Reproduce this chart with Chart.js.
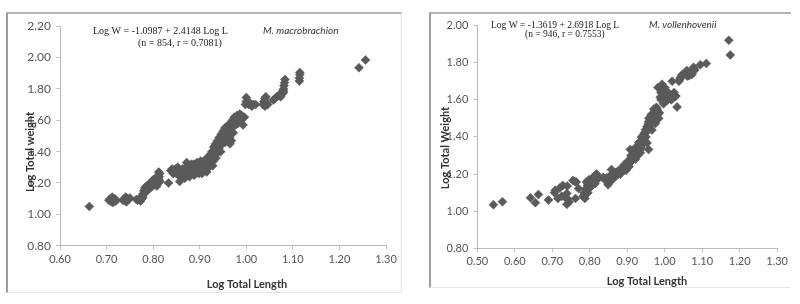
<!DOCTYPE html>
<html>
<head>
<meta charset="utf-8">
<script src="https://cdn.jsdelivr.net/npm/chart.js@4.4.0/dist/chart.umd.min.js"></script>
<style>
  body { margin: 0; background: #fff; width: 800px; height: 304px; position: relative; overflow: hidden; }
  .frame { position: absolute; border-left: 2px solid #9c9c9c; border-top: 2px solid #b4b4b4; border-right: 1px solid #e2e2e2; border-bottom: 1px solid #e6e6e6; }
  .frame canvas { display: block; }
  #f1 { left: 6px; top: 12px; }
  #f2 { left: 429px; top: 12px; border-right: none; }
</style>
</head>
<body>
<div class="frame" id="f1"><canvas id="c1" width="393" height="278"></canvas></div>
<div class="frame" id="f2"><canvas id="c2" width="360" height="273"></canvas></div>
<script>
// M. macrobrachion : log length / log weight
const macroLength = [0.663, 0.705, 0.708, 0.710, 0.712, 0.715, 0.718, 0.714, 0.720,
  0.735, 0.738, 0.740, 0.741, 0.744, 0.747, 0.750, 0.743,
  0.764, 0.767, 0.770, 0.773, 0.776, 0.778,
  0.778, 0.780, 0.782, 0.784, 0.786, 0.788, 0.790, 0.792, 0.794, 0.796, 0.798, 0.800, 0.802, 0.804, 0.806, 0.808, 0.810, 0.812, 0.813, 0.814, 0.812, 0.815,
  0.833,
  0.838, 0.841, 0.844, 0.847, 0.850, 0.852, 0.855, 0.857, 0.860, 0.862, 0.865, 0.867, 0.870, 0.872, 0.874, 0.876, 0.878, 0.880, 0.882, 0.884, 0.886, 0.888, 0.890, 0.892, 0.894, 0.896, 0.898, 0.900, 0.902, 0.904, 0.906, 0.908, 0.910, 0.912, 0.914, 0.916, 0.918, 0.920, 0.922, 0.924, 0.926, 0.928, 0.930, 0.932, 0.934, 0.936, 0.938, 0.940, 0.942, 0.944, 0.946, 0.948, 0.950, 0.952, 0.954, 0.956, 0.958, 0.960, 0.962, 0.964, 0.965, 0.966, 0.968, 0.970, 0.972, 0.974, 0.976, 0.978, 0.980, 0.982, 0.984, 0.986, 0.988, 0.990, 0.993, 0.996,
  0.928, 0.935, 0.945, 0.955, 0.962, 0.972, 0.968, 0.915, 0.905, 0.895,
  0.843, 0.848, 0.853, 0.858, 0.863, 0.868, 0.873, 0.877, 0.881, 0.887, 0.891, 0.897, 0.901, 0.907, 0.911, 0.917, 0.921, 0.925, 0.929, 0.933, 0.937, 0.941, 0.945, 0.949, 0.953, 0.957, 0.961, 0.965, 0.969, 0.973, 0.977, 0.981, 0.985,
  0.790, 0.800, 0.805, 0.795, 0.786, 0.810,
  0.998, 1.000, 1.000, 1.002, 1.005, 1.008, 1.012, 1.015, 1.020,
  1.036, 1.038, 1.040, 1.042, 1.044, 1.046, 1.040,
  1.058, 1.062, 1.066, 1.070, 1.074, 1.078, 1.080, 1.080, 1.081, 1.082, 1.083, 1.079,
  1.114, 1.114, 1.115, 1.115,
  1.242, 1.256];
const macroWeight = [1.05, 1.09, 1.10, 1.08, 1.11, 1.09, 1.10, 1.075, 1.085,
  1.09, 1.10, 1.085, 1.11, 1.10, 1.095, 1.105, 1.08,
  1.095, 1.09, 1.10, 1.085, 1.10, 1.11,
  1.13, 1.15, 1.17, 1.14, 1.18, 1.16, 1.19, 1.17, 1.20, 1.19, 1.21, 1.20, 1.22, 1.19, 1.21, 1.18, 1.20, 1.22, 1.24, 1.26, 1.27, 1.21,
  1.20,
  1.28, 1.29, 1.27, 1.28, 1.26, 1.28, 1.25, 1.21, 1.27, 1.24, 1.28, 1.26, 1.30, 1.33, 1.28, 1.31, 1.24, 1.29, 1.32, 1.27, 1.30, 1.25, 1.28, 1.31, 1.33, 1.29, 1.26, 1.30, 1.34, 1.31, 1.28, 1.33, 1.30, 1.35, 1.32, 1.29, 1.36, 1.33, 1.38, 1.35, 1.40, 1.37, 1.43, 1.39, 1.45, 1.42, 1.47, 1.44, 1.49, 1.46, 1.51, 1.48, 1.53, 1.50, 1.55, 1.52, 1.56, 1.54, 1.57, 1.49, 1.45, 1.58, 1.55, 1.60, 1.57, 1.62, 1.59, 1.61, 1.63, 1.58, 1.62, 1.64, 1.60, 1.63, 1.57, 1.62,
  1.31, 1.36, 1.40, 1.46, 1.51, 1.52, 1.47, 1.27, 1.26, 1.27,
  1.26, 1.29, 1.30, 1.27, 1.29, 1.23, 1.26, 1.29, 1.26, 1.32, 1.26, 1.32, 1.27, 1.29, 1.32, 1.31, 1.35, 1.37, 1.34, 1.41, 1.39, 1.42, 1.47, 1.45, 1.52, 1.49, 1.53, 1.56, 1.58, 1.59, 1.57, 1.61, 1.60,
  1.18, 1.22, 1.23, 1.17, 1.15, 1.23,
  1.70, 1.72, 1.745, 1.71, 1.70, 1.71, 1.69, 1.70, 1.70,
  1.70, 1.72, 1.74, 1.75, 1.71, 1.70, 1.69,
  1.73, 1.74, 1.75, 1.76, 1.75, 1.77, 1.78, 1.80, 1.82, 1.84, 1.86, 1.79,
  1.85, 1.87, 1.89, 1.905,
  1.935, 1.985];

// M. vollenhovenii : log length / log weight
const vollLength = [0.543, 0.567,
  0.642, 0.655, 0.663, 0.690,
  0.706, 0.708, 0.715, 0.720, 0.725, 0.728, 0.733, 0.739, 0.740, 0.739, 0.742, 0.745,
  0.755, 0.760, 0.764, 0.770, 0.762,
  0.782, 0.785, 0.787, 0.789, 0.791, 0.791, 0.794, 0.796, 0.798, 0.800, 0.802, 0.805, 0.807, 0.809, 0.812, 0.814, 0.816, 0.818, 0.820, 0.823,
  0.836, 0.840, 0.845, 0.849, 0.850, 0.854, 0.858, 0.860, 0.864, 0.867, 0.870, 0.872, 0.876,
  0.880, 0.885, 0.888, 0.892, 0.894, 0.897, 0.900, 0.903, 0.905, 0.908, 0.910, 0.912, 0.915, 0.917, 0.920, 0.922,
  0.926, 0.928, 0.930, 0.932, 0.935, 0.935, 0.937, 0.939, 0.941, 0.944, 0.946, 0.948, 0.950, 0.953, 0.957,
  0.953, 0.955, 0.957, 0.959, 0.961, 0.963, 0.966, 0.968, 0.970, 0.972, 0.975, 0.977, 0.979, 0.981, 0.984, 0.986,
  0.898, 0.902, 0.906, 0.910, 0.914, 0.918, 0.921, 0.924, 0.927, 0.931, 0.934, 0.938, 0.942, 0.945, 0.949, 0.951, 0.956, 0.958, 0.962, 0.964, 0.967, 0.971, 0.974, 0.976, 0.978, 0.980,
  0.870, 0.875, 0.882, 0.886, 0.890, 0.855, 0.860, 0.845, 0.810, 0.805, 0.795, 0.788,
  0.982, 0.988, 0.990, 0.993, 0.997, 1.000, 1.002, 1.006, 1.010, 1.015, 1.020, 1.024, 1.028, 1.033,
  0.990, 1.000, 1.004, 1.012, 1.018, 1.025, 1.030,
  1.038, 1.040, 1.042, 1.045, 1.047, 1.050, 1.055, 1.059, 1.060, 1.065, 1.070, 1.073, 1.077, 1.078, 1.080,
  1.095, 1.111, 1.171, 1.175];
const vollWeight = [1.035, 1.051,
  1.072, 1.046, 1.09, 1.06,
  1.10, 1.113, 1.069, 1.125, 1.08, 1.139, 1.078, 1.095, 1.136, 1.037, 1.064, 1.05,
  1.166, 1.16, 1.157, 1.122, 1.069,
  1.08, 1.10, 1.069, 1.12, 1.095, 1.157, 1.14, 1.122, 1.17, 1.157, 1.13, 1.136, 1.16, 1.174, 1.19, 1.148, 1.18, 1.20, 1.17, 1.183,
  1.183, 1.17, 1.166, 1.143, 1.18, 1.19, 1.224, 1.17, 1.20, 1.19, 1.21, 1.209, 1.20,
  1.22, 1.218, 1.23, 1.25, 1.236, 1.22, 1.26, 1.253, 1.24, 1.333, 1.28, 1.271, 1.30, 1.289, 1.31, 1.28,
  1.333, 1.30, 1.35, 1.32, 1.368, 1.315, 1.34, 1.385, 1.36, 1.403, 1.38, 1.42, 1.40, 1.368, 1.333,
  1.456, 1.44, 1.482, 1.46, 1.508, 1.49, 1.438, 1.52, 1.526, 1.50, 1.473, 1.54, 1.543, 1.52, 1.50, 1.53,
  1.24, 1.27, 1.26, 1.30, 1.29, 1.32, 1.34, 1.31, 1.35, 1.37, 1.33, 1.40, 1.39, 1.42, 1.44, 1.43, 1.47, 1.50, 1.47, 1.52, 1.50, 1.55, 1.53, 1.51, 1.56, 1.55,
  1.19, 1.215, 1.20, 1.235, 1.22, 1.17, 1.19, 1.18, 1.16, 1.15, 1.10, 1.09,
  1.666, 1.614, 1.60, 1.684, 1.579, 1.666, 1.62, 1.596, 1.61, 1.622, 1.70, 1.631, 1.62, 1.561,
  1.64, 1.60, 1.65, 1.63, 1.60, 1.64, 1.62,
  1.70, 1.71, 1.72, 1.73, 1.737, 1.737, 1.74, 1.758, 1.728, 1.73, 1.74, 1.737, 1.775, 1.77, 1.76,
  1.789, 1.796, 1.921, 1.842];

const macroXTicks = [0.6, 0.7, 0.8, 0.9, 1.0, 1.1, 1.2, 1.3];
const macroYTicks = [0.8, 1.0, 1.2, 1.4, 1.6, 1.8, 2.0, 2.2];
const vollXTicks = [0.5, 0.6, 0.7, 0.8, 0.9, 1.0, 1.1, 1.2, 1.3];
const vollYTicks = [0.8, 1.0, 1.2, 1.4, 1.6, 1.8, 2.0];

const dotColor = '#5a5a5a';

// draws axis titles and the equation boxes at fixed canvas spots
const textPlugin = {
  id: 'texts',
  afterDraw(chart, args, opts) {
    const ctx = chart.ctx;
    (opts.items || []).forEach(t => {
      ctx.save();
      ctx.font = t.font;
      ctx.fillStyle = t.color || '#222';
      ctx.textAlign = t.align || 'left';
      ctx.textBaseline = 'middle';
      ctx.translate(t.x, t.y);
      if (t.rotate) ctx.rotate(t.rotate);
      ctx.fillText(t.text, 0, 0);
      ctx.restore();
    });
  }
};

function makeChart(id, xs, ys, xTicks, yTicks, box, items) {
  const points = xs.map((x, i) => ({ x: x, y: ys[i] }));
  const axis = (ticks, size) => ({
    type: 'linear',
    min: ticks[0],
    max: ticks[ticks.length - 1],
    afterBuildTicks: s => { s.ticks = ticks.map(v => ({ value: v })); },
    ticks: { font: { family: 'Lato', size: size }, color: '#555', padding: 5, callback: v => Number(v).toFixed(2) },
    grid: { drawOnChartArea: false, drawTicks: true, tickLength: 4, color: '#c4c4c4' },
    border: { color: '#b8b8b8', width: 1 }
  });
  const x = axis(xTicks, 11);
  x.afterFit = s => { s.height = box.xh; };
  x.ticks.padding = 3;
  const y = axis(yTicks, box.yFont);
  y.afterFit = s => { s.width = box.yw; };

  return new Chart(document.getElementById(id), {
    type: 'scatter',
    data: {
      datasets: [{
        data: points,
        pointStyle: 'rectRot',
        pointRadius: 4.5,
        backgroundColor: dotColor,
        borderColor: dotColor,
        borderWidth: 0.5
      }]
    },
    options: {
      responsive: false,
      animation: false,
      devicePixelRatio: 1,
      layout: { padding: { left: 0, top: box.top, right: box.right, bottom: 0 } },
      scales: { x: x, y: y },
      plugins: {
        legend: { display: false },
        tooltip: { enabled: false },
        texts: { items: items }
      }
    },
    plugins: [textPlugin]
  });
}

const titleFont = 'bold 11px Lato';
const spFont = 'italic 10px Lato';

makeChart('c1', macroLength, macroWeight, macroXTicks, macroYTicks,
  { top: 6.7, right: 15, yw: 52, xh: 46.3, yFont: 12 },
  [
    { text: 'Log Total Length', x: 239, y: 270, font: titleFont, align: 'center', color: '#333' },
    { text: 'Log Total weight', x: 22, y: 138, font: titleFont, align: 'center', color: '#333', rotate: -Math.PI / 2 },
    { text: 'Log W = -1.0987 + 2.4148 Log L', x: 85, y: 17, font: '10px "Liberation Serif"' },
    { text: '(n = 854, r = 0.7081)', x: 130, y: 29, font: '10px "Liberation Serif"' },
    { text: 'M. macrobrachion', x: 255, y: 17, font: spFont, color: '#333' }
  ]);

makeChart('c2', vollLength, vollWeight, vollXTicks, vollYTicks,
  { top: 6.7, right: 13.3, yw: 46.3, xh: 38.7, yFont: 11 },
  [
    { text: 'Log Total Length', x: 216, y: 267, font: titleFont, align: 'center', color: '#333' },
    { text: 'Log Total Weight', x: 14, y: 134, font: titleFont, align: 'center', color: '#333', rotate: -Math.PI / 2 },
    { text: 'Log W = -1.3619 + 2.6918 Log L', x: 60, y: 11, font: '9.5px "Liberation Serif"' },
    { text: '(n = 946, r = 0.7553)', x: 94, y: 20, font: '9.5px "Liberation Serif"' },
    { text: 'M. vollenhovenii', x: 218, y: 11, font: spFont, color: '#333' }
  ]);
</script>
</body>
</html>
